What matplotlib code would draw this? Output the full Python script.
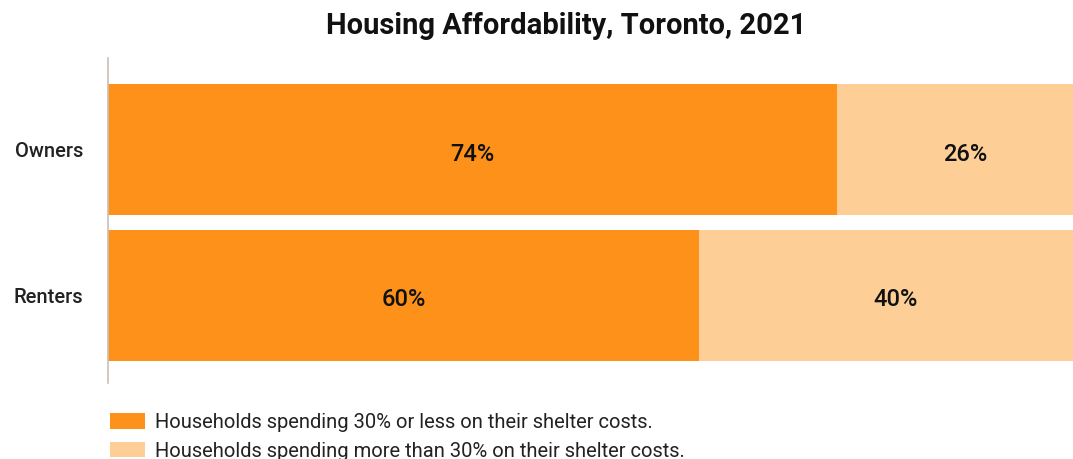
import matplotlib.pyplot as plt
from matplotlib.patches import Patch

groups = ['Owners', 'Renters']
affordable = [74, 60]
unaffordable = [26, 40]
legend_labels = ['Households spending 30% or less on their shelter costs.',
                 'Households spending more than 30% on their shelter costs.']

dark = '#FD9119'
light = '#FDCE96'

plt.rcParams['font.family'] = ['Roboto', 'DejaVu Sans']

fig = plt.figure(figsize=(10.73, 4.59), dpi=100)
ax = fig.add_axes([108 / 1073, 76 / 459, 985 / 1073, 325 / 459])

y = list(range(len(groups)))
ax.barh(y, affordable, height=0.9, color=dark)
ax.barh(y, unaffordable, left=affordable, height=0.9, color=light)

for i in y:
    ax.text(affordable[i] / 2, i + 0.03, f'{affordable[i]}%', ha='center', va='center',
            fontsize=17, fontweight='medium', color='#111111')
    ax.text(affordable[i] + unaffordable[i] / 2, i + 0.03, f'{unaffordable[i]}%',
            ha='center', va='center', fontsize=17, fontweight='medium', color='#111111')

ax.set_xlim(0, 100)
ax.set_ylim(1.6, -0.63)
ax.set_yticks(y)
ax.set_yticklabels(groups, fontsize=14.5, fontweight='medium', color='#222222')
ax.tick_params(axis='y', length=0, pad=18)
ax.set_xticks([])
for s in ['top', 'right', 'bottom']:
    ax.spines[s].set_visible(False)
ax.spines['left'].set_color('#c9c0b6')
ax.spines['left'].set_linewidth(1.2)

fig.text(566 / 1073, 1 - 26 / 459, 'Housing Affordability, Toronto, 2021',
         ha='center', va='center', fontsize=21, fontweight='bold', color='#111111')

handles = [Patch(facecolor=dark, edgecolor='none'), Patch(facecolor=light, edgecolor='none')]
fig.legend(handles, legend_labels, loc='upper left', bbox_to_anchor=(102 / 1073, 1 - 405 / 459),
           frameon=False, fontsize=14.5, handlelength=1.75, handleheight=0.8,
           labelspacing=0.48, handletextpad=0.5, borderaxespad=0, labelcolor='#222222')

fig.savefig('out.png', dpi=100)
